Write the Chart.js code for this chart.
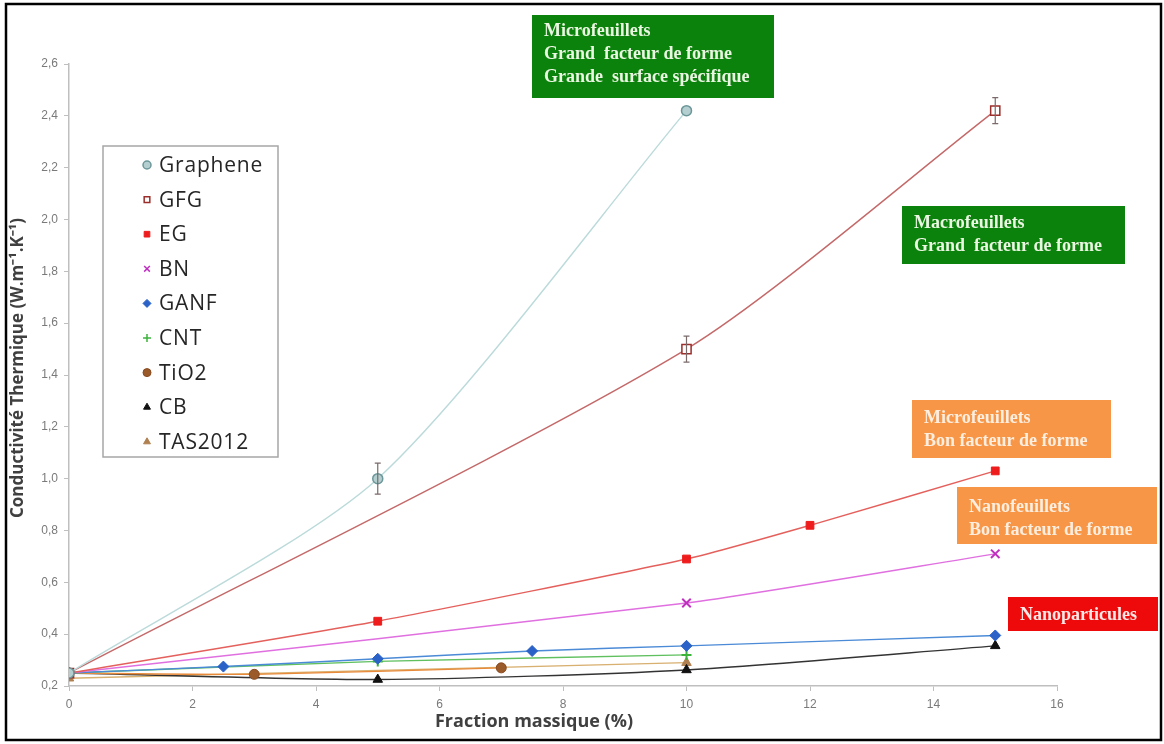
<!DOCTYPE html>
<html>
<head>
<meta charset="utf-8">
<script src="https://cdn.jsdelivr.net/npm/chart.js@4.4.1/dist/chart.umd.min.js"></script>
<style>
  html, body { margin: 0; padding: 0; background: #ffffff; }
  #wrap { width: 1164px; height: 744px; }
</style>
</head>
<body>
<div id="wrap"><canvas id="c" width="1164" height="744"></canvas></div>
<script>
// ---- Data ----
const seriesNames = ['Graphene', 'GFG', 'EG', 'BN', 'GANF', 'CNT', 'TiO2', 'CB', 'TAS2012'];

const grapheneX = [0, 5, 10];
const grapheneY = [0.25, 1.00, 2.42];
const grapheneErr = [0, 0.06, 0];

const gfgX = [0, 10, 15];
const gfgY = [0.25, 1.50, 2.42];
const gfgErr = [0, 0.05, 0.05];

const egX = [0, 5, 10, 12, 15];
const egY = [0.25, 0.45, 0.69, 0.82, 1.03];

const bnX = [0, 10, 15];
const bnY = [0.25, 0.52, 0.71];

const ganfX = [0, 2.5, 5, 7.5, 10, 15];
const ganfY = [0.25, 0.275, 0.305, 0.335, 0.355, 0.395];

const cntX = [0, 5, 10];
const cntY = [0.25, 0.295, 0.32];

const tio2X = [0, 3, 7];
const tio2Y = [0.25, 0.245, 0.27];

const cbX = [0, 5, 10, 15];
const cbY = [0.25, 0.225, 0.262, 0.355];

const tasX = [0, 10];
const tasY = [0.23, 0.29];

const xTicks = [0, 2, 4, 6, 8, 10, 12, 14, 16];
const yTicks = [0.2, 0.4, 0.6, 0.8, 1.0, 1.2, 1.4, 1.6, 1.8, 2.0, 2.2, 2.4, 2.6];

const xTitle = 'Fraction massique (%)';
const yTitle = 'Conductivité Thermique (W.m⁻¹.K⁻¹)';

const annotationTexts = [
  ['Microfeuillets', 'Grand  facteur de forme', 'Grande  surface spécifique'],
  ['Macrofeuillets', 'Grand  facteur de forme'],
  ['Microfeuillets', 'Bon facteur de forme'],
  ['Nanofeuillets', 'Bon facteur de forme'],
  ['Nanoparticules']
];

// ---- helpers ----
function pts(xs, ys) { return xs.map((x, i) => ({ x: x, y: ys[i] })); }

const styles = [
  { line: '#bcdada', pt: 'circle',   r: 5,   fill: '#b5cfd0', stroke: '#6c9799', bw: 1.5, tension: 0.25 },
  { line: '#c46868', pt: 'rect',     r: 6.5, fill: '#ffffff', stroke: '#9b2d2a', bw: 1.5, tension: 0.25 },
  { line: '#e4605c', pt: 'rect',     r: 5.5, fill: '#ee1c1c', stroke: '#ee1c1c', bw: 1, tension: 0.2 },
  { line: '#e070e0', pt: 'crossRot', r: 6,   fill: '#c030c0', stroke: '#c030c0', bw: 2, tension: 0.2 },
  { line: '#4a8ad6', pt: 'rectRot',  r: 5.5, fill: '#2a62c8', stroke: '#2a62c8', bw: 1, tension: 0.2 },
  { line: '#60c060', pt: 'cross',    r: 5,   fill: '#3cb43c', stroke: '#3cb43c', bw: 2, tension: 0.2 },
  { line: '#e88a3a', pt: 'circle',   r: 5,   fill: '#9a5a2a', stroke: '#8a4a20', bw: 1, tension: 0.2 },
  { line: '#333333', pt: 'triangle', r: 5.5, fill: '#111111', stroke: '#111111', bw: 1, tension: 0.25 },
  { line: '#d8b070', pt: 'triangle', r: 5.5, fill: '#b08050', stroke: '#b08050', bw: 1, tension: 0 }
];

const seriesData = [
  pts(grapheneX, grapheneY), pts(gfgX, gfgY), pts(egX, egY), pts(bnX, bnY),
  pts(ganfX, ganfY), pts(cntX, cntY), pts(tio2X, tio2Y), pts(cbX, cbY), pts(tasX, tasY)
];

const datasets = seriesNames.map((name, i) => ({
  label: name,
  data: seriesData[i],
  showLine: true,
  borderColor: styles[i].line,
  borderWidth: 1.4,
  tension: styles[i].tension,
  pointStyle: styles[i].pt,
  pointRadius: styles[i].r,
  pointHoverRadius: styles[i].r,
  pointBackgroundColor: styles[i].fill,
  pointBorderColor: styles[i].stroke,
  pointBorderWidth: styles[i].bw,
  fill: false
}));

const errorSets = [
  { ds: 0, xs: grapheneX, ys: grapheneY, err: grapheneErr },
  { ds: 1, xs: gfgX, ys: gfgY, err: gfgErr }
];

// annotation box layout (pixels)
const boxLayout = [
  { x: 532, y: 15, w: 242, h: 83, bg: '#0b820b', fg: '#eaf6e2', top: 31 },
  { x: 902, y: 206, w: 223, h: 58, bg: '#0b820b', fg: '#eaf6e2', top: 223 },
  { x: 912, y: 400, w: 199, h: 58, bg: '#f79646', fg: '#fdeee0', top: 418 },
  { x: 957, y: 487, w: 200, h: 57, bg: '#f79646', fg: '#fdeee0', top: 507 },
  { x: 1008, y: 597, w: 150, h: 34, bg: '#ee0a0a', fg: '#fde8e8', top: 615 }
];

const framePlugin = {
  id: 'frame',
  beforeDraw(chart) {
    const ctx = chart.ctx;
    ctx.save();
    ctx.fillStyle = '#ffffff';
    ctx.fillRect(0, 0, chart.width, chart.height);
    ctx.restore();
  },
  afterDraw(chart) {
    const ctx = chart.ctx;
    ctx.save();
    ctx.strokeStyle = '#000000';
    ctx.lineWidth = 2.5;
    ctx.strokeRect(6, 4, 1155, 736);
    // axis titles
    ctx.fillStyle = '#404040';
    ctx.textAlign = 'center';
    ctx.textBaseline = 'middle';
    ctx.font = 'bold 18px "Open Sans", "Liberation Sans", sans-serif';
    ctx.fillText(xTitle, 534, 722);
    ctx.font = 'bold 17px "Open Sans", "Liberation Sans", sans-serif';
    ctx.translate(18, 368);
    ctx.rotate(-Math.PI / 2);
    ctx.fillText(yTitle, 0, 0);
    ctx.restore();
  }
};

const errorPlugin = {
  id: 'errbars',
  afterDatasetsDraw(chart) {
    const ctx = chart.ctx;
    const xs = chart.scales.x, ys = chart.scales.y;
    ctx.save();
    ctx.strokeStyle = '#7a6a6a';
    ctx.lineWidth = 1.2;
    errorSets.forEach(s => {
      s.xs.forEach((xv, i) => {
        const e = s.err[i];
        if (!e) return;
        const px = xs.getPixelForValue(xv);
        const p1 = ys.getPixelForValue(s.ys[i] + e);
        const p2 = ys.getPixelForValue(s.ys[i] - e);
        ctx.beginPath();
        ctx.moveTo(px, p1); ctx.lineTo(px, p2);
        ctx.moveTo(px - 3, p1); ctx.lineTo(px + 3, p1);
        ctx.moveTo(px - 3, p2); ctx.lineTo(px + 3, p2);
        ctx.stroke();
      });
    });
    ctx.restore();
  }
};

const annotPlugin = {
  id: 'annot',
  afterDraw(chart) {
    const ctx = chart.ctx;
    ctx.save();
    boxLayout.forEach((b, i) => {
      ctx.fillStyle = b.bg;
      ctx.fillRect(b.x, b.y, b.w, b.h);
      ctx.fillStyle = b.fg;
      ctx.font = 'bold 18px "Liberation Serif", "DejaVu Serif", serif';
      ctx.textBaseline = 'middle';
      ctx.textAlign = 'left';
      annotationTexts[i].forEach((t, j) => {
        ctx.fillText(t, b.x + 12, b.top + j * 23);
      });
    });
    ctx.restore();
  }
};

const legendPlugin = {
  id: 'customLegend',
  afterDraw(chart) {
    const ctx = chart.ctx;
    ctx.save();
    ctx.strokeStyle = '#a6a6a6';
    ctx.lineWidth = 1.5;
    ctx.strokeRect(103, 146, 175, 311);
    ctx.font = '21px "Open Sans", "Liberation Sans", sans-serif';
    try { ctx.letterSpacing = '0.8px'; } catch (e) {}
    ctx.textBaseline = 'middle';
    ctx.textAlign = 'left';
    seriesNames.forEach((name, i) => {
      const y = 165 + i * 34.6;
      const st = styles[i];
      ctx.fillStyle = st.fill;
      ctx.strokeStyle = st.stroke;
      ctx.lineWidth = Math.min(st.bw, 1.5);
      Chart.helpers.drawPoint(ctx, { pointStyle: st.pt, radius: 4, rotation: 0, borderWidth: Math.min(st.bw, 1.5) }, 147, y);
      ctx.fillStyle = '#262626';
      ctx.fillText(name, 159, y + 1);
    });
    ctx.restore();
  }
};

new Chart(document.getElementById('c'), {
  type: 'scatter',
  data: { datasets: datasets },
  options: {
    responsive: false,
    animation: false,
    devicePixelRatio: 1,
    layout: { padding: { left: 0, top: 64, right: 107, bottom: 0 } },
    plugins: {
      legend: { display: false },
      tooltip: { enabled: false }
    },
    scales: {
      x: {
        type: 'linear',
        min: 0, max: 16,
        afterBuildTicks(scale) { scale.ticks = xTicks.map(v => ({ value: v })); },
        afterFit(scale) { scale.height = 58; },
        grid: { display: true, drawOnChartArea: false, drawTicks: true, tickLength: 5, tickColor: '#bfbfbf' },
        border: { display: true, color: '#bfbfbf', width: 1.5 },
        ticks: { color: '#7a7a7a', font: { family: '"Liberation Sans", sans-serif', size: 12 }, padding: 6, maxRotation: 0, callback: v => String(v) },
        title: { display: false }
      },
      y: {
        type: 'linear',
        min: 0.2, max: 2.6,
        afterBuildTicks(scale) { scale.ticks = yTicks.map(v => ({ value: v })); },
        afterFit(scale) { scale.width = 69; },
        grid: { display: true, drawOnChartArea: false, drawTicks: true, tickLength: 5, tickColor: '#bfbfbf' },
        border: { display: true, color: '#bfbfbf', width: 1.5 },
        ticks: { color: '#7a7a7a', font: { family: '"Liberation Sans", sans-serif', size: 12 }, padding: 6, callback: v => v.toFixed(1).replace('.', ',') },
        title: { display: false }
      }
    }
  },
  plugins: [framePlugin, errorPlugin, annotPlugin, legendPlugin]
});
</script>
</body>
</html>
